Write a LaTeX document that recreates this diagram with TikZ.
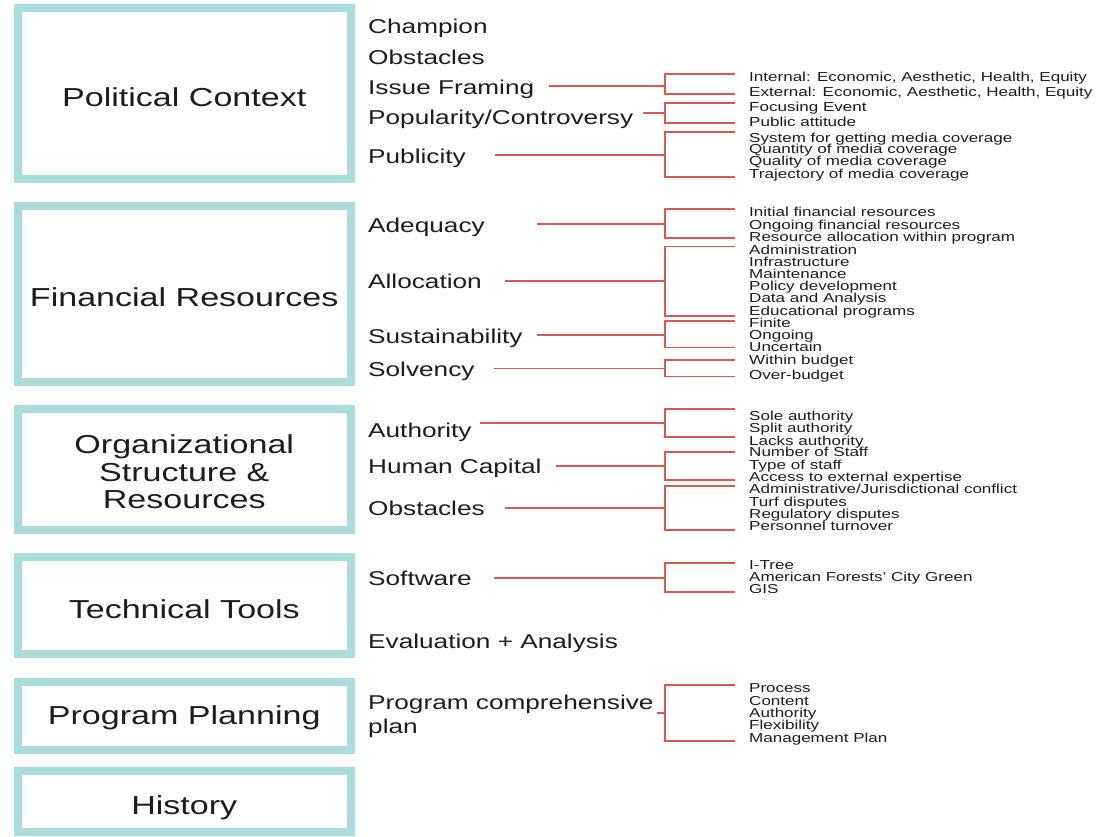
\documentclass[tikz,border=0pt]{standalone}
\usepackage{fontspec}
\setmainfont{Liberation Sans}[FakeStretch=1.31]
\definecolor{boxteal}{RGB}{170,220,218}
\definecolor{linered}{RGB}{222,88,82}
\definecolor{txt}{RGB}{28,28,28}
\begin{document}
\begin{tikzpicture}[x=1pt,y=-1pt,
  box/.style={draw=boxteal,line width=8pt,minimum width=333.5pt,inner sep=0pt,outer sep=0pt},
  boxlabel/.style={font=\fontsize{26}{27.5}\selectfont,text=txt,align=center,inner sep=0pt,text height=18.7pt,text depth=0pt},
  mid/.style={font=\fontsize{20}{24}\selectfont,anchor=west,inner sep=0pt,text height=14.3pt,text depth=0pt,text=txt},
  item/.style={font=\fontsize{13}{13}\selectfont,anchor=west,inner sep=0pt,text height=9.3pt,text depth=0pt,text=txt},
  br/.style={draw=linered,line width=1.4pt}
]
\useasboundingbox (0,0) rectangle (1101,836);
% boxes
\node[box,minimum height=171pt] (pcb) at (184.25,93.5) {};
\node[box,minimum height=176pt] (frb) at (184.25,293.5) {};
\node[box,minimum height=121pt] (osb) at (184.25,469.5) {};
\node[box,minimum height=97pt] (ttb) at (184.25,605.5) {};
\node[box,minimum height=68pt] (ppb) at (184.25,716) {};
\node[box,minimum height=61pt] (hib) at (184.25,801.5) {};
\node[boxlabel] (pc) at (184.25,97) {Political Context};
\node[boxlabel] (fr) at (184.25,297) {Financial Resources};
\node[boxlabel,text height=,text depth=] (os) at (184.25,472) {Organizational\\Structure \&\\Resources};
\node[boxlabel] (tt) at (184.25,609) {Technical Tools};
\node[boxlabel] (pp) at (184.25,715) {Program Planning};
\node[boxlabel] (hi) at (184.25,805) {History};
% middle labels
\node[mid] (m1) at (368,26) {Champion};
\node[mid] (m2) at (368,57) {Obstacles};
\node[mid] (m3) at (368,87) {Issue Framing};
\node[mid] (m4) at (368,117) {Popularity/Controversy};
\node[mid] (m5) at (368,156) {Publicity};
\node[mid] (m6) at (368,225) {Adequacy};
\node[mid] (m7) at (368,281) {Allocation};
\node[mid] (m8) at (368,336) {Sustainability};
\node[mid] (m9) at (368,369) {Solvency};
\node[mid] (m10) at (368,430) {Authority};
\node[mid] (m11) at (368,466) {Human Capital};
\node[mid] (m12) at (368,508) {Obstacles};
\node[mid] (m13) at (368,578) {Software};
\node[mid] (m14) at (368,641) {Evaluation + Analysis};
\node[mid,align=left,text height=,text depth=] (m15) at (368,716) {Program comprehensive\\plan};
% items
\node[item] (a1) at (749,76.5) {Internal: Economic, Aesthetic, Health, Equity};
\node[item] (a2) at (749,92) {External: Economic, Aesthetic, Health, Equity};
\node[item] (b1) at (749,107) {Focusing Event};
\node[item] (b2) at (749,122) {Public attitude};
\node[item] (c1) at (749,137.5) {System for getting media coverage};
\node[item] (c2) at (749,149) {Quantity of media coverage};
\node[item] (c3) at (749,160.5) {Quality of media coverage};
\node[item] (c4) at (749,174) {Trajectory of media coverage};
\node[item] (d1) at (749,212) {Initial financial resources};
\node[item] (d2) at (749,225) {Ongoing financial resources};
\node[item] (d3) at (749,237) {Resource allocation within program};
\node[item] (e1) at (749,249.5) {Administration};
\node[item] (e2) at (749,261.7) {Infrastructure};
\node[item] (e3) at (749,274) {Maintenance};
\node[item] (e4) at (749,286) {Policy development};
\node[item] (e5) at (749,298.3) {Data and Analysis};
\node[item] (e6) at (749,311) {Educational programs};
\node[item] (f1) at (749,323) {Finite};
\node[item] (f2) at (749,335) {Ongoing};
\node[item] (f3) at (749,347) {Uncertain};
\node[item] (g1) at (749,359.5) {Within budget};
\node[item] (g2) at (749,375) {Over-budget};
\node[item] (h1) at (749,416) {Sole authority};
\node[item] (h2) at (749,428) {Split authority};
\node[item] (h3) at (749,441) {Lacks authority};
\node[item] (k1) at (749,452) {Number of Staff};
\node[item] (k2) at (749,465) {Type of staff};
\node[item] (k3) at (749,477) {Access to external expertise};
\node[item] (l1) at (749,489) {Administrative/Jurisdictional conflict};
\node[item] (l2) at (749,501.5) {Turf disputes};
\node[item] (l3) at (749,514) {Regulatory disputes};
\node[item] (l4) at (749,526) {Personnel turnover};
\node[item] (n1) at (749,565) {I-Tree};
\node[item] (n2) at (749,577) {American Forests' City Green};
\node[item] (n3) at (749,589) {GIS};
\node[item] (p1) at (749,688) {Process};
\node[item] (p2) at (749,701) {Content};
\node[item] (p3) at (749,713) {Authority};
\node[item] (p4) at (749,725) {Flexibility};
\node[item] (p5) at (749,738) {Management Plan};
% connector start points and bracket spine
\coordinate (s3) at (549,86);   \coordinate (s4) at (643,113);  \coordinate (s5) at (495,155);
\coordinate (s6) at (537,224);  \coordinate (s7) at (505,281);  \coordinate (s8) at (537,335);
\coordinate (s9) at (494,368.5); \coordinate (s10) at (480,423); \coordinate (s11) at (556,466);
\coordinate (s12) at (505,508); \coordinate (s13) at (494,578); \coordinate (s15) at (657,713);
\coordinate (spine) at (665,0);
\coordinate (tick) at (735,0);
% brackets
\foreach \s/\t/\b in {s3/74/94, s4/103/123, s5/132/177, s6/209/238, s7/246.5/316,
  s8/321/347.5, s9/360/376.5, s10/409/437, s11/452/480, s12/486/530, s13/563/592, s15/685/741}{
  \draw[br] (\s) -- (\s -| spine);
  \draw[br] (tick |- 0,\t) -- (spine |- 0,\t) -- (spine |- 0,\b) -- (tick |- 0,\b);
}
\end{tikzpicture}
\end{document}
